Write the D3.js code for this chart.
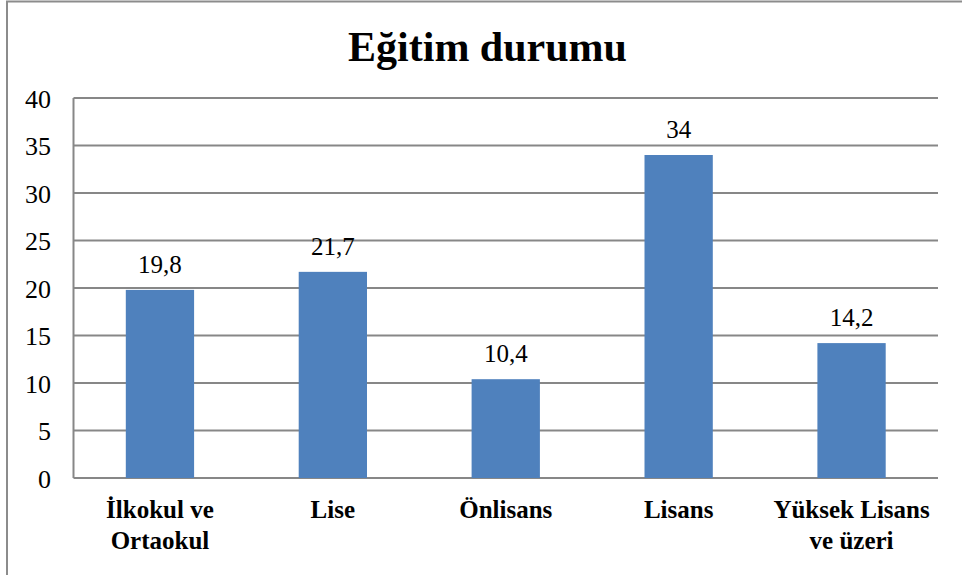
<!DOCTYPE html>
<html>
<head>
<meta charset="utf-8">
<script src="https://cdn.jsdelivr.net/npm/d3@7"></script>
<style>
  body { margin: 0; background: #fff; }
  svg { display: block; }
  svg text { font-family: 'Liberation Serif', 'Times New Roman', serif; }
</style>
</head>
<body>
<script>
var categories = [["İlkokul ve", "Ortaokul"], ["Lise"], ["Önlisans"], ["Lisans"], ["Yüksek Lisans", "ve üzeri"]];
var values = [19.8, 21.7, 10.4, 34, 14.2];
var yTicks = [0, 5, 10, 15, 20, 25, 30, 35, 40];
var title = "Eğitim durumu";

var width = 962, height = 575;
var margin = { top: 98, right: 24, bottom: 97, left: 73.5 };

var svg = d3.select('body').append('svg').attr('width', width).attr('height', height);

// outer frame (only top and left visible in the crop)
svg.append('path')
  .attr('d', 'M7,' + (height + 5) + 'V1.5H' + (width + 5))
  .attr('fill', 'none')
  .attr('stroke', '#8c8c8c')
  .attr('stroke-width', 2);

svg.append('text')
  .attr('x', 487.5).attr('y', 61)
  .attr('text-anchor', 'middle')
  .attr('font-weight', 'bold')
  .attr('font-size', 42)
  .text(title);

var x = d3.scaleBand()
  .domain(d3.range(categories.length))
  .range([margin.left, width - margin.right])
  .paddingInner(0.605).paddingOuter(0.3025);

var y = d3.scaleLinear().domain([0, 40]).range([height - margin.bottom, margin.top]);

var g = svg.append('g');

// gridlines
g.selectAll('line.grid')
  .data(yTicks)
  .enter().append('line')
  .attr('class', 'grid')
  .attr('x1', margin.left).attr('x2', width - margin.right)
  .attr('y1', function (d) { return y(d); })
  .attr('y2', function (d) { return y(d); })
  .attr('stroke', '#878787')
  .attr('stroke-width', 2);

// left axis line
g.append('line')
  .attr('x1', margin.left).attr('x2', margin.left)
  .attr('y1', y(40)).attr('y2', y(0))
  .attr('stroke', '#878787')
  .attr('stroke-width', 2);

g.selectAll('text.ytick')
  .data(yTicks)
  .enter().append('text')
  .attr('class', 'ytick')
  .attr('x', 51)
  .attr('y', function (d) { return y(d) + 9.5; })
  .attr('text-anchor', 'end')
  .attr('font-size', 26)
  .text(function (d) { return d; });

g.selectAll('rect.bar')
  .data(values)
  .enter().append('rect')
  .attr('class', 'bar')
  .attr('x', function (d, i) { return x(i); })
  .attr('width', x.bandwidth())
  .attr('y', function (d) { return y(d); })
  .attr('height', function (d) { return y(0) - y(d); })
  .attr('fill', '#4F81BD');

g.selectAll('text.val')
  .data(values)
  .enter().append('text')
  .attr('class', 'val')
  .attr('x', function (d, i) { return x(i) + x.bandwidth() / 2; })
  .attr('y', function (d) { return y(d) - 17; })
  .attr('text-anchor', 'middle')
  .attr('font-size', 25)
  .text(function (d) { return String(d).replace('.', ','); });

var labels = g.selectAll('text.cat')
  .data(categories)
  .enter().append('text')
  .attr('class', 'cat')
  .attr('x', function (d, i) { return x(i) + x.bandwidth() / 2; })
  .attr('y', 518)
  .attr('text-anchor', 'middle')
  .attr('font-weight', 'bold')
  .attr('font-size', 25);

labels.selectAll('tspan')
  .data(function (d) { return d; })
  .enter().append('tspan')
  .attr('x', function () { return this.parentNode.getAttribute('x'); })
  .attr('dy', function (d, i) { return i === 0 ? 0 : 31; })
  .text(function (d) { return d; });
</script>
</body>
</html>
